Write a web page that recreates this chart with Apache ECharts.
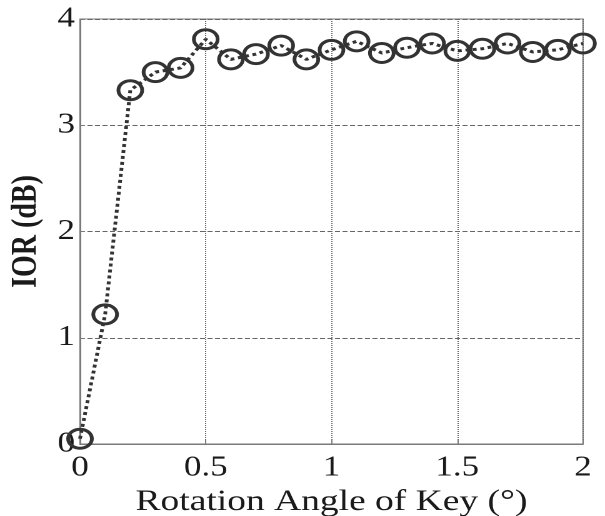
<!DOCTYPE html>
<html>
<head>
<meta charset="utf-8">
<script src="https://cdn.jsdelivr.net/npm/echarts@6/dist/echarts.min.js"></script>
<style>
  html, body { margin: 0; padding: 0; background: #fff; overflow: hidden; }
  /* the source figure is stretched sideways, so the chart is drawn narrower and widened */
  #chart { width: 484px; height: 516px; transform: scaleX(1.25); transform-origin: 0 0; }
</style>
</head>
<body>
<div id="chart"></div>
<script>
// rotation angle of key (deg) and measured IOR (dB)
const angles = [0, 0.1, 0.2, 0.3, 0.4, 0.5, 0.6, 0.7, 0.8, 0.9, 1.0,
  1.1, 1.2, 1.3, 1.4, 1.5, 1.6, 1.7, 1.8, 1.9, 2.0]
const iorValues = [0.05, 1.22, 3.33, 3.50, 3.54, 3.81, 3.62, 3.67, 3.75, 3.62, 3.71,
  3.79, 3.68, 3.73, 3.77, 3.70, 3.72, 3.77, 3.69, 3.71, 3.77]

const xTitle = 'Rotation Angle of Key (°)'
const yTitle = 'IOR (dB)'

const chart = echarts.init(document.getElementById('chart'), null, { devicePixelRatio: 2 })

const serif = 'Liberation Serif'
const axisGray = '#7a7a7a'

const option = {
  animation: false,
  backgroundColor: '#fff',
  grid: {
    left: 64, right: 17.6, top: 19, bottom: 72,
    outerBoundsMode: 'none',
    containLabel: false,
    show: true, borderColor: axisGray, borderWidth: 1
  },
  xAxis: {
    type: 'value',
    min: 0, max: 2, interval: 0.5,
    name: xTitle,
    nameLocation: 'middle',
    nameGap: 39,
    nameTextStyle: { fontFamily: serif, fontSize: 30, color: '#1a1a1a' },
    axisLine: { lineStyle: { color: axisGray, width: 1 } },
    axisTick: { inside: true, length: 4, lineStyle: { color: axisGray } },
    axisLabel: { fontFamily: serif, fontSize: 28, color: '#1a1a1a', margin: 10 },
    splitLine: { show: true, lineStyle: { type: 'dotted', color: '#666', width: 1 } }
  },
  yAxis: {
    type: 'value',
    min: 0, max: 4, interval: 1,
    name: yTitle,
    nameLocation: 'middle',
    nameGap: 28,
    nameTextStyle: { fontFamily: serif, fontSize: 28, fontWeight: 'bold', color: '#1a1a1a' },
    axisLine: { show: true, lineStyle: { color: axisGray, width: 1 } },
    axisTick: { show: true, inside: true, length: 4, lineStyle: { color: axisGray } },
    axisLabel: { fontFamily: serif, fontSize: 28, color: '#1a1a1a', margin: 4 },
    splitLine: { show: true, lineStyle: { type: 'dashed', color: '#666', width: 1 } }
  },
  series: [{
    type: 'line',
    data: angles.map((a, i) => [a, iorValues[i]]),
    clip: false,
    symbol: 'circle',
    symbolSize: 19,
    lineStyle: { color: '#333', width: 3, type: 'dotted' },
    itemStyle: { color: 'rgba(0,0,0,0)', borderColor: '#333', borderWidth: 3 }
  }]
}

chart.setOption(option)
</script>
</body>
</html>
